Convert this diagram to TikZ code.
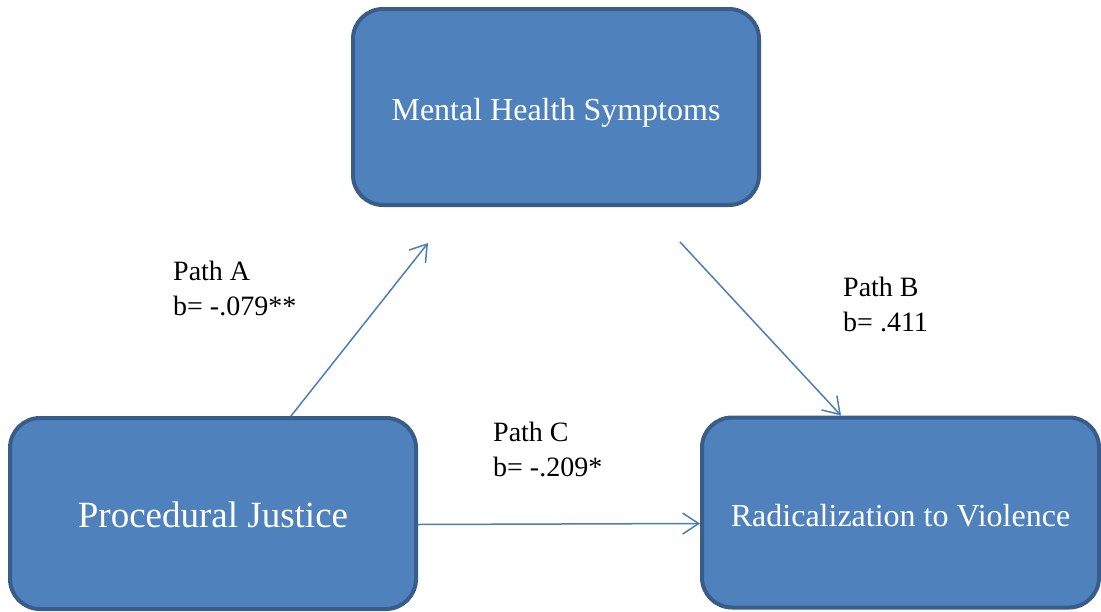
\documentclass[tikz,border=0pt]{standalone}
\usepackage{fontspec}
\setmainfont{Liberation Serif}
\usetikzlibrary{arrows.meta}

\definecolor{boxfill}{HTML}{4F81BD}
\definecolor{boxline}{HTML}{385D8A}
\definecolor{arrowcol}{HTML}{4A7EBB}

\tikzset{
  varbox/.style={rectangle, rounded corners=30pt, draw=boxline, fill=boxfill,
    line width=4pt, inner sep=0pt, text=white, text height=27pt, text depth=0pt,
    font=\fontsize{32}{38}\selectfont},
  conn/.style={draw=arrowcol, line width=1.5pt,
    -{Straight Barb[length=16pt,width=21pt,line width=1.5pt]}},
  % anchored on the baseline of the lower line
  pathlabel/.style={anchor=base west, align=left, inner sep=0pt, text=black,
    font=\fontsize{28}{35}\selectfont}
}

\begin{document}
\begin{tikzpicture}[x=1pt,y=-1pt]
  \useasboundingbox (0,0) rectangle (1101,611);

  % the three variables
  \node[varbox, minimum width=406pt, minimum height=196pt] (mh) at (556,107)
    {Mental Health Symptoms};
  \node[varbox, minimum width=406pt, minimum height=191pt,
        font=\fontsize{37}{44}\selectfont] (pj) at (213,513.5)
    {Procedural Justice};
  \node[varbox, minimum width=397pt, minimum height=190pt] (rv) at (900.5,512.5)
    {Radicalization to Violence};

  % free ends of the mediation paths
  \coordinate (atip) at (428,243);
  \coordinate (bstart) at (680,242);

  % paths
  \draw[conn] ([xshift=78pt]pj.north) -- (atip);
  \draw[conn] (bstart) -- ([xshift=-59.5pt]rv.north);
  \draw[conn] ([yshift=-11pt]pj.east) -- ([yshift=-11pt]rv.west);

  % coefficients
  \node[pathlabel] (la) at (173,315) {Path A\\b= -.079**};
  \node[pathlabel] (lb) at (843,331) {Path B\\b= .411};
  \node[pathlabel] (lc) at (493,476) {Path C\\b= -.209*};
\end{tikzpicture}
\end{document}
